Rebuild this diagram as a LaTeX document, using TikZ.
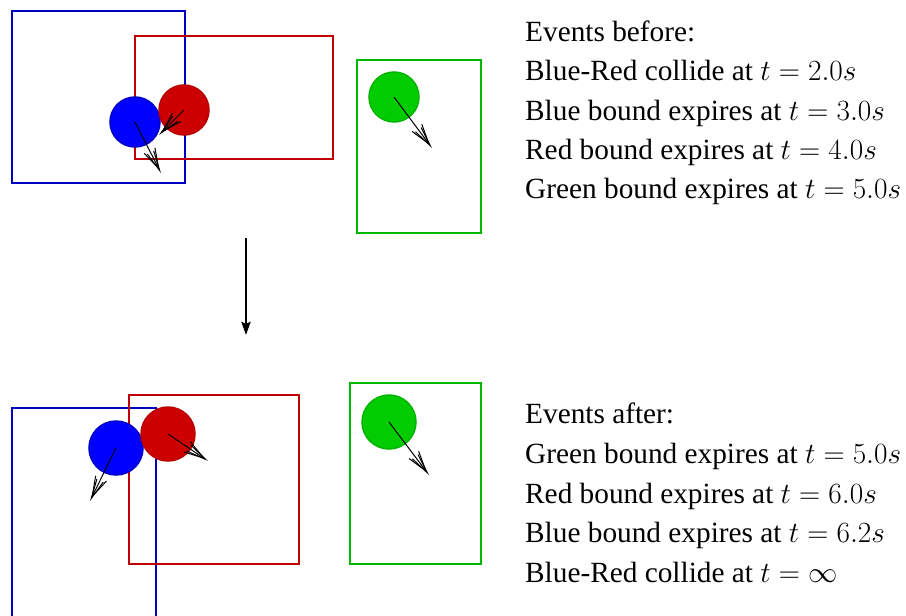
\RequirePackage{fix-cm}
\documentclass[tikz,border=0pt]{standalone}
\usepackage[no-math]{fontspec}
\setmainfont{Liberation Serif}
\usetikzlibrary{arrows.meta}

\definecolor{boxblue}{RGB}{0,0,192}
\definecolor{boxred}{RGB}{190,0,0}
\definecolor{boxgreen}{RGB}{0,184,0}
\definecolor{ballblue}{RGB}{0,0,255}
\definecolor{ballred}{RGB}{204,0,0}
\definecolor{ballgreen}{RGB}{0,204,0}
\definecolor{ringblue}{RGB}{0,0,200}
\definecolor{ringred}{RGB}{184,0,0}
\definecolor{ringgreen}{RGB}{0,180,0}

\tikzset{
  bound/.style={line width=2.8pt},
  ball/.style={circle, line width=1.5pt, inner sep=0pt, minimum size=50pt},
  bigball/.style={ball, minimum size=54pt},
  vel/.style={line width=1pt,
    -{Straight Barb[length=20pt,width=12pt,sep=-20pt]Straight Barb[length=20pt,width=7pt]}},
  evtext/.style={anchor=base west, inner sep=0pt, font=\fontsize{29.3}{39.5}\selectfont}
}

\begin{document}
\begin{tikzpicture}[x=1pt,y=-1pt]
            \useasboundingbox (0,0) rectangle (906,616);

            % state before the step
            \draw[bound, boxblue] (12,11) rectangle (185,183);
            \draw[bound, boxred] (135,36) rectangle (333,159);
            \draw[bound, boxgreen] (357,60) rectangle (481,233);

            \node[ball, draw=ringblue, fill=ballblue] (blue1) at (135,122) {};
            \node[ball, draw=ringred, fill=ballred] (red1) at (184,110) {};
            \node[ball, draw=ringgreen, fill=ballgreen] (green1) at (394,97) {};

            \coordinate (blue1v) at (161,173);
            \coordinate (red1v) at (159,135);
            \coordinate (green1v) at (432,148);
            \draw[vel] (blue1.center) -- (blue1v);
            \draw[vel] (red1.center) -- (red1v);
            \draw[vel] (green1.center) -- (green1v);

            \foreach \txt [count=\i] in {Events before:, Blue-Red collide at $t=2.0s$,
                Blue bound expires at $t=3.0s$, Red bound expires at $t=4.0s$,
                Green bound expires at $t=5.0s$}
                \node[evtext] (before\i) at (525,{41.7+39.15*(\i-1)}) {\txt};

            \coordinate (stepTop) at (246,238);
            \coordinate (stepBot) at (246,335);
            \draw[line width=2.7pt, -{Stealth[length=13pt,width=9pt,inset=2pt]}] (stepTop) -- (stepBot);

            % state after the step
            \draw[bound, boxblue] (12,408) rectangle (156,617);
            \draw[bound, boxred] (129,395) rectangle (299,564);
            \draw[bound, boxgreen] (350,383) rectangle (481,564);

            \node[bigball, draw=ringblue, fill=ballblue] (blue2) at (116,448) {};
            \node[bigball, draw=ringred, fill=ballred] (red2) at (168,434) {};
            \node[bigball, draw=ringgreen, fill=ballgreen] (green2) at (389,422) {};

            \coordinate (blue2v) at (90,501);
            \coordinate (red2v) at (208,461);
            \coordinate (green2v) at (429,475);
            \draw[vel] (blue2.center) -- (blue2v);
            \draw[vel] (red2.center) -- (red2v);
            \draw[vel] (green2.center) -- (green2v);

            \foreach \txt [count=\i] in {Events after:, Green bound expires at $t=5.0s$,
                Red bound expires at $t=6.0s$, Blue bound expires at $t=6.2s$,
                Blue-Red collide at $t=\infty$}
                \node[evtext] (after\i) at (525,{423.3+39.85*(\i-1)}) {\txt};
\end{tikzpicture}
\end{document}
